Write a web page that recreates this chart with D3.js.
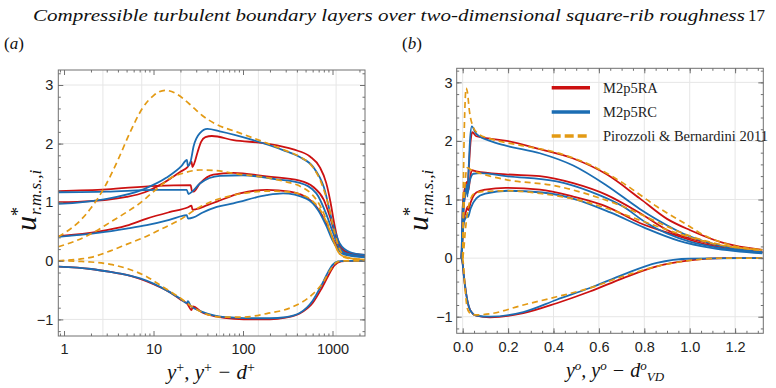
<!DOCTYPE html>
<html>
<head>
<meta charset="utf-8">
<script src="https://cdn.jsdelivr.net/npm/d3@7"></script>
<style>
body { margin: 0; background: #fff; }
svg { display: block; }
.sans { font-family: "Liberation Sans", Arial, Helvetica, sans-serif; }
.serif { font-family: "Liberation Serif", "Times New Roman", Times, serif; }
</style>
</head>
<body>
<svg id="fig" width="776" height="388"></svg>
<script>
/* --------------------------------------------
 * r.m.s. profiles, panel (a) inner units, panel (b) outer units
 * ============================================
 */

// ---- panel (a): y+ (log) ----
var leftRA_u = [[0.863,1.0],[2,1.02],[3,1.04],[5,1.09],[8,1.17],[12,1.3],[16,1.42],[20,1.52],[24,1.6],[26.6,1.69],[27.2,1.6],[28.5,1.66],[31,1.85],[34,2.03],[38,2.11],[45,2.13],[78,2.06],[184,2.0],[366,1.9],[560,1.78],[720,1.6],[850,1.33],[950,1.0],[1050,0.62],[1150,0.35],[1300,0.19],[1600,0.13],[2307,0.1]];
var leftRA_w = [[0.863,1.19],[3,1.22],[10.8,1.28],[26,1.29],[26.8,1.2],[28,1.18],[33,1.32],[46.5,1.47],[78,1.5],[184,1.44],[430,1.37],[610,1.26],[800,1.04],[950,0.72],[1100,0.4],[1250,0.22],[1500,0.13],[2307,0.08]];
var leftRA_v = [[0.863,0.42],[2.5,0.5],[5,0.6],[8.4,0.72],[15,0.83],[24,0.91],[26.6,0.94],[27.3,0.87],[30,0.88],[40,0.95],[51,1.01],[92,1.15],[184,1.21],[335,1.18],[560,1.04],[750,0.8],[900,0.55],[1050,0.33],[1200,0.18],[1500,0.1],[2307,0.07]];
var leftRA_uv = [[0.863,-0.1],[2,-0.14],[3.3,-0.19],[5,-0.24],[7.1,-0.31],[10,-0.4],[15,-0.53],[20,-0.66],[24,-0.74],[26.6,-0.84],[27.5,-0.78],[35,-0.88],[50,-0.95],[80,-0.99],[130,-1.0],[200,-1.0],[300,-0.97],[430,-0.9],[600,-0.72],[750,-0.48],[900,-0.25],[1050,-0.08],[1250,-0.01],[1500,0],[2307,0]];

var leftRC_u = [[0.863,0.97],[2.8,1.05],[7.7,1.22],[14,1.42],[20.6,1.62],[23.6,1.72],[24.2,1.62],[26,1.7],[28,1.95],[33,2.18],[40,2.25],[55,2.21],[130,2.06],[280,1.89],[430,1.77],[610,1.6],[800,1.26],[1020,0.6],[1200,0.3],[1560,0.15],[2307,0.1]];
var leftRC_w = [[0.863,1.17],[3,1.18],[10.8,1.21],[23.5,1.21],[24.6,1.14],[27,1.18],[33,1.32],[55,1.45],[100,1.46],[237,1.39],[430,1.33],[660,1.15],[850,0.8],[1000,0.5],[1150,0.27],[1400,0.13],[2307,0.07]];
var leftRC_v = [[0.863,0.41],[2.5,0.48],[5,0.55],[8.4,0.61],[15,0.7],[21.6,0.77],[23.5,0.78],[24.3,0.72],[28,0.74],[35,0.82],[51,0.92],[78,0.98],[184,1.12],[280,1.15],[510,1.06],[700,0.85],[850,0.6],[1000,0.35],[1150,0.2],[1400,0.1],[2307,0.06]];
var leftRC_uv = [[0.863,-0.1],[2,-0.14],[3.3,-0.19],[5,-0.24],[7.1,-0.3],[10,-0.39],[15,-0.53],[20,-0.65],[23.5,-0.72],[24.3,-0.69],[26,-0.77],[35,-0.87],[50,-0.94],[80,-0.97],[130,-0.98],[200,-0.98],[300,-0.96],[430,-0.89],[600,-0.68],[750,-0.42],[900,-0.18],[1000,-0.07],[1150,-0.01],[1400,0],[2307,0]];

var leftPB_u = [[0.863,0.41],[1,0.47],[1.5,0.68],[2,0.9],[2.8,1.24],[4,1.72],[5.5,2.2],[7.5,2.6],[10,2.82],[13.5,2.91],[18,2.85],[25,2.68],[35,2.48],[50,2.33],[85,2.2],[150,2.06],[300,1.88],[450,1.76],[600,1.6],[750,1.33],[900,0.95],[1050,0.5],[1200,0.2],[1450,0.06],[2307,0.02]];
var leftPB_w = [[0.863,0.24],[1.3,0.33],[2,0.46],[3.3,0.66],[5,0.83],[7,0.98],[9.3,1.14],[12,1.28],[15,1.4],[22,1.5],[33,1.55],[50,1.54],[80,1.49],[200,1.41],[300,1.35],[450,1.26],[600,1.12],[750,0.9],[900,0.6],[1050,0.3],[1200,0.12],[1500,0.04],[2307,0.01]];
var leftPB_v = [[0.863,0.0],[1.5,0.03],[2,0.06],[3.3,0.17],[5,0.28],[8.4,0.42],[11.8,0.53],[19.7,0.7],[33,0.92],[50,1.04],[78,1.12],[200,1.19],[300,1.18],[450,1.13],[600,1.02],[750,0.84],[900,0.58],[1050,0.3],[1200,0.12],[1500,0.05],[2307,0.02]];
var leftPB_uv = [[0.863,0],[1.5,-0.01],[2,-0.02],[3.3,-0.06],[5,-0.13],[8.4,-0.27],[12,-0.42],[19.7,-0.63],[28,-0.8],[39,-0.91],[60,-0.96],[100,-0.96],[184,-0.9],[366,-0.78],[610,-0.56],[800,-0.35],[940,-0.16],[1100,-0.03],[1300,0],[2307,0]];

// ---- panel (b): y/delta (linear) ----
var rightRA_u = [[-0.005,0],[-0.002,0.6],[0.002,1.0],[0.01,1.2],[0.018,1.3],[0.022,1.28],[0.028,1.6],[0.035,2.0],[0.042,2.15],[0.06,2.08],[0.12,2.04],[0.194,2.0],[0.34,1.86],[0.487,1.7],[0.634,1.43],[0.78,1.02],[0.9,0.67],[1.0,0.48],[1.148,0.26],[1.32,0.14]];
var rightRA_w = [[-0.005,0],[0,0.5],[0.005,0.9],[0.015,1.15],[0.022,1.26],[0.025,1.15],[0.032,1.35],[0.04,1.5],[0.06,1.48],[0.19,1.43],[0.34,1.4],[0.487,1.28],[0.634,1.08],[0.78,0.77],[0.9,0.48],[1.075,0.26],[1.32,0.1]];
var rightRA_v = [[-0.005,0],[0,0.4],[0.005,0.65],[0.015,0.8],[0.022,0.88],[0.025,0.82],[0.035,0.95],[0.06,1.12],[0.1,1.17],[0.19,1.2],[0.34,1.17],[0.487,1.05],[0.634,0.88],[0.78,0.6],[0.93,0.4],[1.075,0.23],[1.32,0.1]];
var rightRA_uv = [[-0.005,0],[0,-0.1],[0.005,-0.3],[0.015,-0.6],[0.025,-0.8],[0.032,-0.88],[0.045,-0.95],[0.06,-0.98],[0.12,-1.01],[0.267,-0.94],[0.414,-0.77],[0.56,-0.57],[0.707,-0.34],[0.855,-0.14],[1.0,-0.04],[1.15,0],[1.32,0]];

var rightRC_u = [[-0.005,0],[-0.002,0.6],[0.001,0.9],[0.01,1.11],[0.018,1.25],[0.021,1.05],[0.026,1.5],[0.032,2.0],[0.04,2.25],[0.06,2.12],[0.12,2.0],[0.19,1.92],[0.34,1.79],[0.487,1.58],[0.634,1.24],[0.78,0.84],[0.855,0.66],[1.0,0.37],[1.148,0.2],[1.32,0.1]];
var rightRC_w = [[-0.005,0],[0,0.5],[0.005,0.9],[0.012,1.1],[0.018,1.18],[0.021,1.1],[0.03,1.3],[0.047,1.44],[0.08,1.45],[0.19,1.4],[0.414,1.31],[0.56,1.14],[0.707,0.88],[0.81,0.6],[1.0,0.28],[1.15,0.16],[1.32,0.1]];
var rightRC_v = [[-0.005,0],[0,0.4],[0.005,0.6],[0.015,0.7],[0.02,0.75],[0.023,0.7],[0.035,0.85],[0.06,1.02],[0.1,1.1],[0.2,1.15],[0.35,1.12],[0.5,1.0],[0.65,0.78],[0.8,0.52],[0.95,0.3],[1.1,0.17],[1.32,0.08]];
var rightRC_uv = [[-0.005,0],[0,-0.1],[0.005,-0.3],[0.015,-0.6],[0.025,-0.8],[0.032,-0.88],[0.045,-0.95],[0.06,-0.98],[0.12,-1.0],[0.267,-0.92],[0.414,-0.71],[0.56,-0.51],[0.707,-0.28],[0.855,-0.08],[1.0,-0.01],[1.32,0]];

var rightPB_u = [[0,0],[0.001,0.4],[0.003,1.2],[0.006,2.0],[0.01,2.6],[0.015,2.9],[0.02,2.85],[0.03,2.5],[0.045,2.25],[0.07,2.12],[0.12,2.04],[0.25,1.93],[0.414,1.8],[0.59,1.54],[0.707,1.28],[0.855,0.88],[1.0,0.54],[1.045,0.43],[1.148,0.26],[1.32,0.14]];
var rightPB_w = [[0,0],[0.001,0.25],[0.004,0.7],[0.008,1.1],[0.013,1.4],[0.02,1.54],[0.04,1.5],[0.1,1.42],[0.19,1.34],[0.414,1.23],[0.56,1.08],[0.707,0.88],[0.855,0.62],[1.0,0.38],[1.15,0.22],[1.32,0.13]];
var rightPB_v = [[0,0],[0.005,0.15],[0.01,0.4],[0.02,0.75],[0.03,0.95],[0.05,1.1],[0.1,1.14],[0.2,1.15],[0.35,1.1],[0.5,1.0],[0.65,0.83],[0.8,0.62],[0.95,0.42],[1.1,0.25],[1.32,0.14]];
var rightPB_uv = [[0,0],[0.003,-0.1],[0.01,-0.5],[0.02,-0.85],[0.03,-0.93],[0.047,-0.97],[0.12,-0.95],[0.267,-0.8],[0.414,-0.66],[0.56,-0.51],[0.707,-0.31],[0.855,-0.14],[1.0,-0.04],[1.15,0],[1.32,0]];

// ticks
var yMajor = [-1, 0, 1, 2, 3];
var leftXMajor = [1, 10, 100, 1000];
var leftXLabels = ["1", "10", "100", "1000"];
var rightXMajor = [0, 0.2, 0.4, 0.6, 0.8, 1.0, 1.2];

var legendNames = ["M2p5RA", "M2p5RC", "Pirozzoli & Bernardini 2011"];

var RED = "#cc1111", BLUE = "#1b6db3", ORANGE = "#e39a14";

var svg = d3.select("#fig");

function minorY() {
	var t = [];
	for (var v = -1.2; v <= 3.21; v += 0.2) t.push(+v.toFixed(1));
	return t;
}

function drawPanel(opt)
{
	var x = opt.x, y = opt.y;
	var X0 = x.range()[0], X1 = x.range()[1];
	var Y0 = y.range()[1], Y1 = y.range()[0];
	var g = svg.append("g");

	// grid lines
	g.selectAll("line.gx").data(opt.gridX).enter().append("line")
		.attr("x1", x).attr("x2", x).attr("y1", Y0).attr("y2", Y1)
		.attr("stroke", "#e6e6e6").attr("stroke-width", 1);
	g.selectAll("line.gy").data(opt.gridY).enter().append("line")
		.attr("x1", X0).attr("x2", X1).attr("y1", y).attr("y2", y)
		.attr("stroke", "#e6e6e6").attr("stroke-width", 1);

	// clip
	svg.append("clipPath").attr("id", opt.id).append("rect")
		.attr("x", X0).attr("y", Y0).attr("width", X1 - X0).attr("height", Y1 - Y0);

	var line = d3.line()
		.x(function(d) { return x(d[0]); })
		.y(function(d) { return y(d[1]); })
		.curve(d3.curveMonotoneX);

	var curves = g.append("g").attr("clip-path", "url(#" + opt.id + ")");
	opt.series.forEach(function(s) {
		curves.append("path")
			.attr("d", line(s.data))
			.attr("fill", "none")
			.attr("stroke", s.color)
			.attr("stroke-width", s.dash ? 1.7 : 1.8)
			.attr("stroke-dasharray", s.dash || null);
	});

	// frame
	g.append("rect").attr("x", X0).attr("y", Y0).attr("width", X1 - X0).attr("height", Y1 - Y0)
		.attr("fill", "none").attr("stroke", "#707070").attr("stroke-width", 1);

	// axes: ticks point inward
	function axis(gen, tr, vals, size, fmt, pad) {
		var a = g.append("g").attr("transform", tr)
			.call(gen.tickValues(vals).tickSize(size).tickPadding(pad || 3).tickFormat(fmt || ""));
		a.attr("font-family", null).attr("font-size", null);
		a.select(".domain").remove();
		a.selectAll(".tick line").attr("stroke", "#707070");
		a.selectAll("text").attr("class", "sans").style("font-size", "14.5px").attr("fill", "#222");
		return a;
	}
	axis(d3.axisBottom(x), "translate(0," + Y1 + ")", opt.xMajor, -5, opt.xFmt, 8);
	axis(d3.axisBottom(x), "translate(0," + Y1 + ")", opt.xMinor, -2.5);
	axis(d3.axisTop(x), "translate(0," + Y0 + ")", opt.xMajor, -5);
	axis(d3.axisTop(x), "translate(0," + Y0 + ")", opt.xMinor, -2.5);
	axis(d3.axisLeft(y), "translate(" + X0 + ",0)", yMajor, -5, function(d) { return d < 0 ? "\u2212" + (-d) : "" + d; }, opt.yPad);
	axis(d3.axisLeft(y), "translate(" + X0 + ",0)", minorY(), -2.5);
	axis(d3.axisRight(y), "translate(" + X1 + ",0)", yMajor, -5);
	axis(d3.axisRight(y), "translate(" + X1 + ",0)", minorY(), -2.5);

	// y label  u*_{r.m.s.,i}
	var lab = svg.append("g").attr("class", "serif")
		.attr("transform", "translate(" + opt.yLabX + "," + opt.yLabY + ") rotate(-90)")
		.style("font-style", "italic").attr("fill", "#111");
	lab.append("text").attr("x", 0).attr("y", 0).style("font-size", "30px").text("u");
	lab.append("text").attr("x", 16).attr("y", 5).style("font-size", "17px").text("r.m.s.,i");
	lab.append("text").attr("x", 15).attr("y", -12).style("font-size", "18px").style("font-style", "normal").text("*");

	return g;
}

// ---- panel (a) ----
var xA = d3.scaleLog().domain([0.863, 2307]).range([58.3, 365]);
var yA = d3.scaleLinear().domain([-1.283, 3.256]).range([336, 70]);
var minorA = [];
[0.1, 1, 10, 100, 1000].forEach(function(d) {
	for (var k = 2; k <= 9; k++) {
		var v = k * d;
		if (v > 0.863 && v < 2307) minorA.push(v);
	}
});
var gridA = [];
for (var n = 1; n <= 7; n++) gridA.push(Math.exp(n));

drawPanel({
	id: "clipA", x: xA, y: yA,
	gridX: gridA, gridY: yMajor,
	xMajor: leftXMajor, xMinor: minorA,
	xFmt: function(d) { return leftXLabels[leftXMajor.indexOf(d)]; },
	yPad: 5, yLabX: 36, yLabY: 231,
	series: [
		{ data: leftRA_u, color: RED }, { data: leftRA_w, color: RED },
		{ data: leftRA_v, color: RED }, { data: leftRA_uv, color: RED },
		{ data: leftRC_u, color: BLUE }, { data: leftRC_w, color: BLUE },
		{ data: leftRC_v, color: BLUE }, { data: leftRC_uv, color: BLUE },
		{ data: leftPB_u, color: ORANGE, dash: "6,4" }, { data: leftPB_w, color: ORANGE, dash: "6,4" },
		{ data: leftPB_v, color: ORANGE, dash: "6,4" }, { data: leftPB_uv, color: ORANGE, dash: "6,4" }
	]
});

// ---- panel (b) ----
var xB = d3.scaleLinear().domain([-0.0264, 1.3242]).range([456.7, 763.3]);
var yB = d3.scaleLinear().domain([-1.283, 3.24]).range([333.3, 68.3]);
var minorB = [];
for (var i = -0.0; i <= 1.32; i += 0.05) minorB.push(+i.toFixed(2));

drawPanel({
	id: "clipB", x: xB, y: yB,
	gridX: rightXMajor, gridY: yMajor,
	xMajor: rightXMajor, xMinor: minorB,
	xFmt: d3.format(".1f"),
	yPad: 4, yLabX: 428, yLabY: 231,
	series: [
		{ data: rightRA_u, color: RED }, { data: rightRA_w, color: RED },
		{ data: rightRA_v, color: RED }, { data: rightRA_uv, color: RED },
		{ data: rightRC_u, color: BLUE }, { data: rightRC_w, color: BLUE },
		{ data: rightRC_v, color: BLUE }, { data: rightRC_uv, color: BLUE },
		{ data: rightPB_u, color: ORANGE, dash: "6,4" }, { data: rightPB_w, color: ORANGE, dash: "6,4" },
		{ data: rightPB_v, color: ORANGE, dash: "6,4" }, { data: rightPB_uv, color: ORANGE, dash: "6,4" }
	]
});

// legend
var legColors = [RED, BLUE, ORANGE];
var leg = svg.append("g");
legendNames.forEach(function(name, i) {
	var ly = 87.7 + i * 24.2;
	leg.append("line").attr("x1", 551.7).attr("x2", 590).attr("y1", ly).attr("y2", ly)
		.attr("stroke", legColors[i]).attr("stroke-width", 3.5)
		.attr("stroke-dasharray", i == 2 ? "9,4" : null);
	leg.append("text").attr("class", "serif").attr("x", 603).attr("y", ly + 5)
		.style("font-size", "14.5px").attr("fill", "#222").text(name);
});

// x labels
function xLabel(cx, by, size, parts) {
	var t = svg.append("text").attr("class", "serif").attr("x", cx).attr("y", by).attr("text-anchor", "middle")
		.style("font-style", "italic").style("font-size", size + "px").attr("fill", "#111");
	parts.forEach(function(p) {
		var ts = t.append("tspan").attr("dy", p[1]).style("font-size", (p[2] || size) + "px").text(p[0]);
		if (p[3]) ts.style("font-style", p[3]);
	});
}
xLabel(211, 379, 21, [["y", 0], ["+", -7, 14, "normal"], [", y", 7], ["+", -7, 14, "normal"], [" \u2212 d", 7], ["+", -7, 14, "normal"]]);
xLabel(615, 377, 20, [["y", 0], ["o", -7, 13], [", y", 7], ["o", -7, 13], [" \u2212 d", 7], ["o", -7, 13], ["VD", 11, 13]]);

// title and panel marks
svg.append("text").attr("class", "serif").attr("x", 33).attr("y", 21).style("font-style", "italic")
	.style("font-size", "17px").attr("textLength", 712).attr("lengthAdjust", "spacingAndGlyphs").attr("fill", "#111")
	.text("Compressible turbulent boundary layers over two-dimensional square-rib roughness");
svg.append("text").attr("class", "serif").attr("x", 748).attr("y", 21)
	.style("font-size", "17px").attr("fill", "#111").text("17");
svg.append("text").attr("class", "serif").attr("x", 4).attr("y", 49).style("font-size", "17px").attr("fill", "#111")
	.html("(<tspan style='font-style:italic'>a</tspan>)");
svg.append("text").attr("class", "serif").attr("x", 402).attr("y", 49).style("font-size", "17px").attr("fill", "#111")
	.html("(<tspan style='font-style:italic'>b</tspan>)");
</script>
</body>
</html>
